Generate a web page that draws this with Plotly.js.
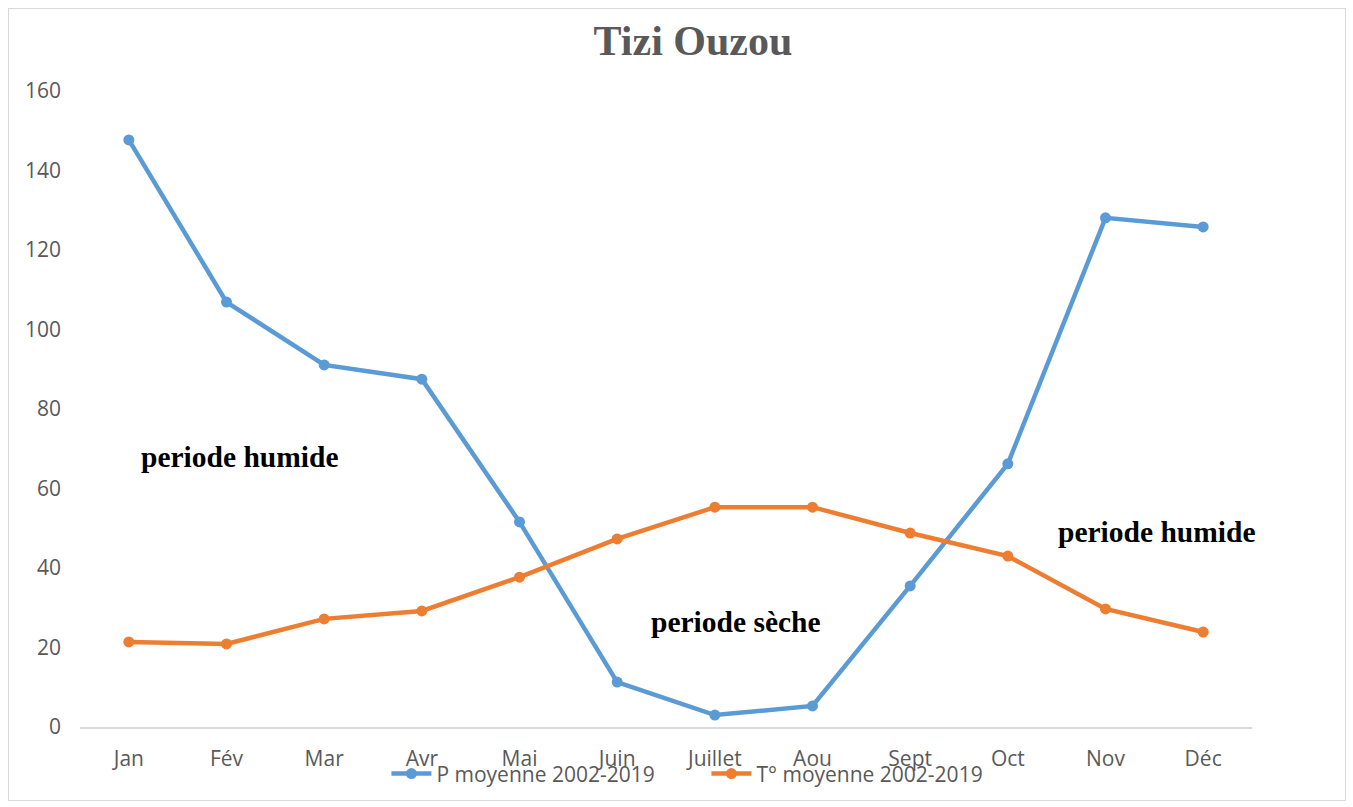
<!DOCTYPE html>
<html>
<head>
<meta charset="utf-8">
<script src="https://cdn.plot.ly/plotly-3.0.1.min.js"></script>
<style>
html,body{margin:0;padding:0;background:#fff;}
#frame{position:absolute;left:8px;top:8px;width:1336px;height:791px;border:1px solid #d9d9d9;}
#chart{width:1336px;height:791px;}
</style>
</head>
<body>
<div id="frame"><div id="chart"></div></div>
<script>
const months = ["Jan","Fév","Mar","Avr","Mai","Juin","Juillet","Aou","Sept","Oct","Nov","Déc"];
const precip = [147.7, 106.9, 91.1, 87.5, 51.6, 11.3, 3.0, 5.3, 35.5, 66.2, 128.1, 125.8];
const temp2x = [21.4, 20.9, 27.2, 29.2, 37.7, 47.3, 55.3, 55.3, 48.8, 43.0, 29.7, 23.9];
const yTicks = [0, 20, 40, 60, 80, 100, 120, 140, 160];
const seriesNames = ["P moyenne 2002-2019", "T° moyenne 2002-2019"];
const labels = [
  {text: "periode humide", x: 1.14, y: 67.9},
  {text: "periode sèche", x: 6.22, y: 26.4},
  {text: "periode humide", x: 10.53, y: 49}
];

const traces = [
  {x: months, y: precip, name: seriesNames[0], type: "scatter", mode: "lines+markers",
   line: {color: "#5B9BD5", width: 4.5}, marker: {color: "#5B9BD5", size: 11}},
  {x: months, y: temp2x, name: seriesNames[1], type: "scatter", mode: "lines+markers",
   line: {color: "#ED7D31", width: 4.5}, marker: {color: "#ED7D31", size: 11}}
];

const tickFont = {family: "Open Sans, Noto Sans, sans-serif", size: 21, color: "#595959"};

const layout = {
  width: 1336, height: 791,
  margin: {l: 71, r: 93, t: 82, b: 73},
  paper_bgcolor: "#fff", plot_bgcolor: "#fff",
  showlegend: true,
  title: {text: "<b>Tizi Ouzou</b>", x: 0.523, xref: "paper", xanchor: "center", y: 0.96, yanchor: "middle",
          font: {family: "Liberation Serif, Times New Roman, serif", size: 42, color: "#595959"}},
  xaxis: {type: "category", range: [-0.5, 11.5], showgrid: false, zeroline: false,
          showline: true, linecolor: "#d9d9d9", linewidth: 1.5, ticks: "",
          tickfont: tickFont, ticklabelstandoff: 12, fixedrange: true},
  yaxis: {range: [0, 160], tickvals: yTicks, showgrid: false, zeroline: false, showline: false,
          ticks: "", tickfont: tickFont, ticklabelstandoff: 18, fixedrange: true},
  legend: {orientation: "h", xref: "container", yref: "container", x: 0.2825, xanchor: "left",
           y: 0.033, yanchor: "middle", entrywidth: 265, entrywidthmode: "pixels",
           font: tickFont, bgcolor: "rgba(0,0,0,0)", itemwidth: 40, tracegroupgap: 0},
  annotations: labels.map(a => ({
    text: "<b>" + a.text + "</b>", x: a.x, y: a.y, xref: "x", yref: "y", showarrow: false,
    xanchor: "center", yanchor: "middle",
    font: {family: "Liberation Serif, Times New Roman, serif", size: 29.5, color: "#000"}
  }))
};

Plotly.newPlot("chart", traces, layout, {displayModeBar: false, staticPlot: true});
</script>
</body>
</html>
